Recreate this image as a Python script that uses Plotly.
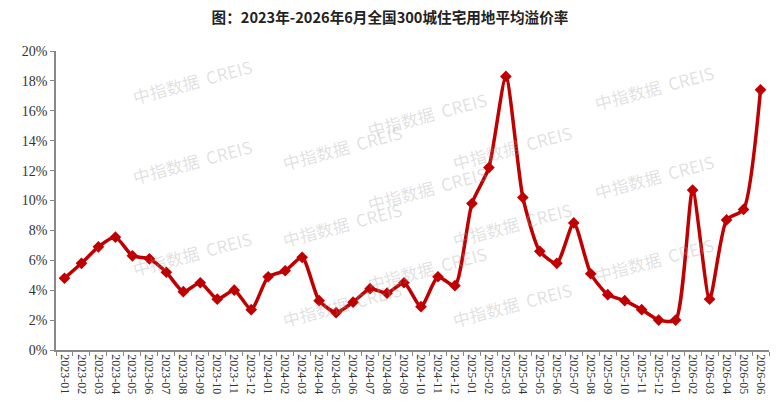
import plotly.graph_objects as go

months = ["2023-01","2023-02","2023-03","2023-04","2023-05","2023-06","2023-07","2023-08","2023-09","2023-10","2023-11","2023-12",
          "2024-01","2024-02","2024-03","2024-04","2024-05","2024-06","2024-07","2024-08","2024-09","2024-10","2024-11","2024-12",
          "2025-01","2025-02","2025-03","2025-04","2025-05","2025-06","2025-07","2025-08","2025-09","2025-10","2025-11","2025-12",
          "2026-01","2026-02","2026-03","2026-04","2026-05","2026-06"]
premium_rate = [4.8, 5.8, 6.9, 7.55, 6.3, 6.1, 5.2, 3.9, 4.5, 3.4, 4.0, 2.7,
                4.9, 5.3, 6.2, 3.3, 2.5, 3.2, 4.1, 3.8, 4.5, 2.9, 4.9, 4.3,
                9.8, 12.2, 18.3, 10.2, 6.6, 5.8, 8.5, 5.1, 3.7, 3.3, 2.7, 2.0,
                2.0, 10.7, 3.4, 8.7, 9.4, 17.4]
y_ticks = [0, 2, 4, 6, 8, 10, 12, 14, 16, 18, 20]
title_text = "图：2023年-2026年6月全国300城住宅用地平均溢价率"
watermark = "中指数据  CREIS"

fig = go.Figure()
fig.add_trace(go.Scatter(
    x=months, y=premium_rate, mode="lines+markers",
    line=dict(color="#c00000", width=3.5, shape="spline", smoothing=0.6),
    marker=dict(symbol="diamond", size=9, color="#c00000"),
    showlegend=False, cliponaxis=False,
))

# watermarks
wm_pos = [(0.1, 1.0), (0.52, 0.89), (0.1, 0.63), (0.52, 0.54), (0.1, 0.22), (0.52, 0.17),
          (0.93, 0.98), (0.93, 0.58), (0.93, 0.2), (0.31, 0.78), (0.31, 0.42), (0.31, 0.05),
          (0.73, 0.78), (0.73, 0.42), (0.73, 0.05)]
for (wx, wy) in wm_pos:
    fig.add_annotation(x=wx, y=wy, xref="paper", yref="paper", text=watermark, showarrow=False,
                       textangle=-15, font=dict(family="Noto Sans CJK SC", size=17, color="rgba(160,160,160,0.33)"))

fig.update_layout(
    width=780, height=417,
    margin=dict(l=56, r=11, t=51, b=67),
    paper_bgcolor="white", plot_bgcolor="white",
    title=dict(text=title_text, x=0.5, xanchor="center", y=0.957, yanchor="middle",
               font=dict(family="Noto Sans CJK SC", size=14.6, color="#222222", weight="bold")),
    xaxis=dict(type="category", tickangle=90, tickson="boundaries", ticks="outside", ticklen=4,
               tickcolor="#888888", showline=True, linecolor="#888888", linewidth=1.5, showgrid=False,
               tickfont=dict(family="Liberation Sans Narrow", size=12, color="#333333"),
               range=[-0.5, len(months) - 0.5]),
    yaxis=dict(range=[0, 20], tickvals=y_ticks, ticktext=[f"{v}%" for v in y_ticks],
               ticks="outside", ticklen=4, tickcolor="#888888", showline=True, linecolor="#888888",
               linewidth=1.5, showgrid=False, zeroline=False,
               tickfont=dict(family="Liberation Serif", size=14, color="#333333")),
)

fig.write_html("out.html")
